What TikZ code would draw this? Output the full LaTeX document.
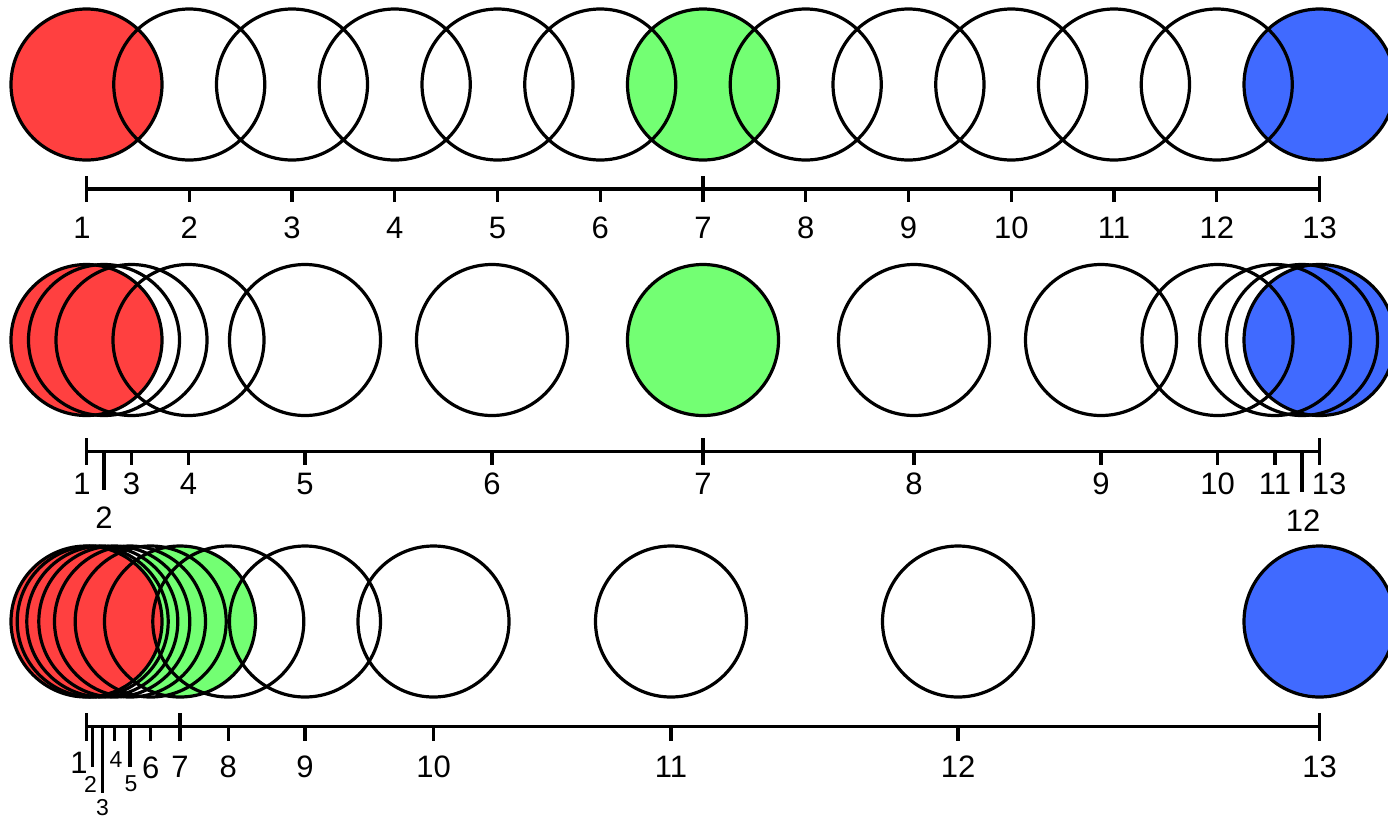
\documentclass[tikz,border=0pt]{standalone}
\usepackage{fontspec}
\setmainfont{Liberation Sans}
\definecolor{cred}{HTML}{FF4040}
\definecolor{cgreen}{HTML}{73FF73}
\definecolor{cblue}{HTML}{406AFF}
\begin{document}
\begin{tikzpicture}[x=1pt,y=-1pt,
  circ/.style={line width=3.2pt},
  ax/.style={line width=3.2pt},
  lab/.style={font=\fontsize{31}{36}\selectfont, inner sep=0pt},
  slab/.style={font=\fontsize{23}{27}\selectfont, inner sep=0pt}]
\useasboundingbox (0,0) rectangle (1388,820);
\clip (0,0) rectangle (1388,820);
\def\R{75.5}
% ---------- Row 1 ----------
\fill[cblue] (1319.5,84.5) circle (\R);
\fill[cgreen] (703,84.5) circle (\R);
\fill[cred] (86.5,84.5) circle (\R);
\foreach \i in {0,...,12} {
  \pgfmathsetmacro\xx{86.5+\i*102.75}
  \draw[circ] (\xx,84.5) circle (\R);
  \draw[ax] (\xx,189) -- (\xx,202);
}
\draw[ax] (86.5,189) -- (1319.5,189);
\foreach \xx in {86.5,703,1319.5} \draw[ax] (\xx,176) -- (\xx,202);
\node[lab] (a1) at (82,228) {1};
\foreach \i in {2,...,13} {
  \pgfmathsetmacro\xx{86.5+(\i-1)*102.75}
  \node[lab] (a\i) at (\xx,228) {\i};
}
% ---------- Row 2 ----------
\fill[cblue] (1319.5,340) circle (\R);
\fill[cgreen] (703,340) circle (\R);
\fill[cred] (86.5,340) circle (\R);
\foreach \xx in {86.5,104,131.5,188.5,305,492,703,914,1101,1217.5,1275,1302,1319.5} {
  \draw[circ] (\xx,340) circle (\R);
  \draw[ax] (\xx,451.5) -- (\xx,465);
}
\draw[ax] (86.5,451.5) -- (1319.5,451.5);
\foreach \xx in {86.5,703,1319.5} \draw[ax] (\xx,438) -- (\xx,465);
\draw[ax] (104,451.5) -- (104,490);
\draw[ax] (1302,451.5) -- (1302,492);
\node[lab] (b1) at (82,484) {1};
\node[lab] (b2) at (104,518) {2};
\node[lab] (b3) at (131.5,484) {3};
\node[lab] (b4) at (188.5,484) {4};
\node[lab] (b5) at (305,484) {5};
\node[lab] (b6) at (492,484) {6};
\node[lab] (b7) at (703,484) {7};
\node[lab] (b8) at (914,484) {8};
\node[lab] (b9) at (1101,484) {9};
\node[lab] (b10) at (1217.5,484) {10};
\node[lab] (b11) at (1275,484) {11};
\node[lab] (b12) at (1303,521) {12};
\node[lab] (b13) at (1329,484) {13};
% ---------- Row 3 ----------
\fill[cblue] (1319.5,621.5) circle (\R);
\fill[cgreen] (180,621.5) circle (\R);
\fill[cred] (86.5,621.5) circle (\R);
\foreach \xx in {86.5,92.7,102.3,114.3,130,150.7,180,228.3,305,433.5,671,958,1319.5} {
  \draw[circ] (\xx,621.5) circle (\R);
  \draw[ax] (\xx,726.5) -- (\xx,740.5);
}
\draw[ax] (86.5,726.5) -- (1319.5,726.5);
\foreach \xx in {86.5,180,1319.5} \draw[ax] (\xx,713) -- (\xx,740.5);
\draw[ax] (92.7,726.5) -- (92.7,767);
\draw[ax] (102.3,726.5) -- (102.3,793);
\draw[ax] (130,726.5) -- (130,767);
\node[lab] (c1) at (79,763) {1};
\node[slab] (c2) at (90.5,784) {2};
\node[slab] (c3) at (102.5,808) {3};
\node[slab] (c4) at (116,760) {4};
\node[slab] (c5) at (131,784) {5};
\node[lab] (c6) at (150.7,767.5) {6};
\node[lab] (c7) at (180,767) {7};
\node[lab] (c8) at (228.3,767) {8};
\node[lab] (c9) at (305,767) {9};
\node[lab] (c10) at (433.5,767) {10};
\node[lab] (c11) at (671,767) {11};
\node[lab] (c12) at (958,767) {12};
\node[lab] (c13) at (1319.5,767) {13};
\end{tikzpicture}
\end{document}
